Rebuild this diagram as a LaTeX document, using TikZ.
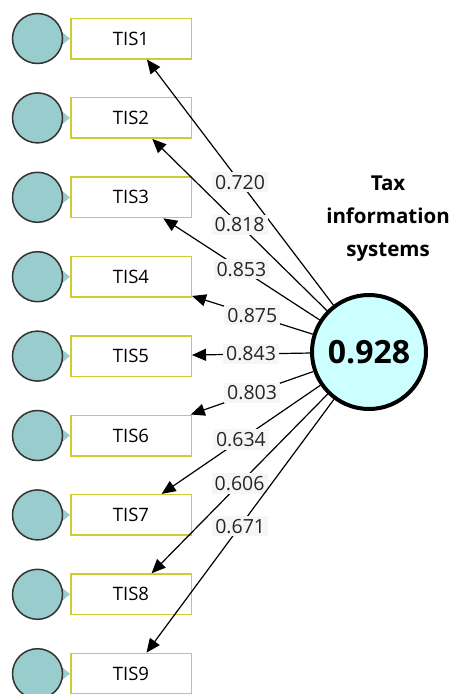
\documentclass[tikz,border=0pt]{standalone}
\usepackage{fontspec}
\setmainfont{Open Sans}
\usetikzlibrary{arrows.meta}
\definecolor{teal1}{HTML}{99CCCC}
\definecolor{bigfill}{HTML}{CCFFFF}
\definecolor{boxline}{HTML}{CCCC33}
\definecolor{labbg}{HTML}{F6F6F6}
\definecolor{dark}{HTML}{333333}
\tikzset{
  indbox/.style={draw=boxline, line width=1.5pt, fill=white, minimum width=120.5pt, minimum height=40.5pt, inner sep=0pt, font=\fontsize{18.5}{20}\selectfont},
  errc/.style={circle, draw=dark, line width=1.5pt, fill=teal1, minimum size=50pt, inner sep=0pt},
  bigc/.style={circle, draw=black, line width=4pt, fill=bigfill, minimum size=114pt, inner sep=0pt, font=\bfseries\fontsize{32}{34}\selectfont},
  load/.style={-{Triangle[length=14pt,width=12pt]}, line width=1.2pt, black},
  lab/.style={fill=labbg, inner sep=3pt, font=\fontsize{19.5}{21}\selectfont, text=black!85},
  ttl/.style={align=center, font=\bfseries\fontsize{20.5}{33}\selectfont}
}
\begin{document}
\begin{tikzpicture}[x=1pt,y=-1pt]
\useasboundingbox (0,0) rectangle (453,694);
\foreach \i in {1,...,9}{
  \pgfmathsetmacro{\yy}{38.5+79.4*(\i-1)}
  \fill[teal1] (62,\yy-6.5) -- (70,\yy) -- (62,\yy+6.5) -- cycle;
  \node[errc] (e\i) at (37.5,\yy) {};
  \node[indbox] (t\i) at (131,\yy) {TIS\i};
}
\node[bigc] (lv) at (369,352) {0.928};
\node[ttl] (title) at (388,219) {Tax\\information\\systems};
\draw[load] (lv) -- (t1) node[midway, lab] {0.720};
\draw[load] (lv) -- (t2) node[midway, lab] {0.818};
\draw[load] (lv) -- (t3) node[midway, lab] {0.853};
\draw[load] (lv) -- (t4) node[midway, lab] {0.875};
\draw[load] (lv) -- (t5) node[midway, lab] {0.843};
\draw[load] (lv) -- (t6) node[midway, lab] {0.803};
\draw[load] (lv) -- (t7) node[midway, lab] {0.634};
\draw[load] (lv) -- (t8) node[midway, lab] {0.606};
\draw[load] (lv) -- (t9) node[midway, lab] {0.671};
\end{tikzpicture}
\end{document}
